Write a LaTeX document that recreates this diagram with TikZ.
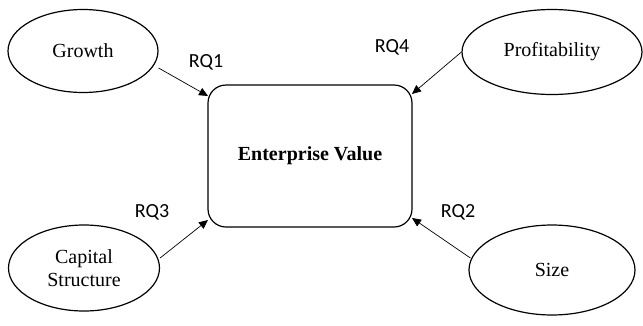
\documentclass[tikz,border=0pt]{standalone}
\usepackage{fontspec}
\setmainfont{Liberation Serif}
\newfontfamily\rqfont{Carlito}
\usetikzlibrary{arrows.meta,shapes.geometric,calc}
\begin{document}
\begin{tikzpicture}[x=1pt,y=-1pt,
  factor/.style={draw,line width=1.2pt,ellipse,inner sep=0pt,font=\fontsize{20}{23}\selectfont,align=center},
  target/.style={draw,line width=1.2pt,rounded corners=18pt,inner sep=0pt,font=\bfseries\fontsize{20}{23}\selectfont},
  link/.style={line width=0.7pt,-{Triangle[length=9pt,width=8pt]}},
  rq/.style={font=\rqfont\fontsize{20}{23}\selectfont}]
\useasboundingbox (0,0) rectangle (643,325);
\node[target,minimum width=204pt,minimum height=142pt] (ev) at (310,156) {Enterprise Value};
\node[factor,minimum width=150pt,minimum height=83pt] (gr) at (83,51) {Growth};
\node[factor,minimum width=180pt,minimum height=85pt] (pr) at (552,52) {Profitability};
\node[factor,minimum width=151pt,minimum height=86pt] (cs) at (84,268) {Capital\\Structure};
\node[factor,minimum width=166pt,minimum height=90pt] (sz) at (552,270) {Size};
\coordinate (t1) at (208,96);
\coordinate (t4) at (412,94);
\coordinate (t3) at (208,220);
\coordinate (t2) at (412,218);
\draw[link] ($(gr.east)+(0,17)$) -- (t1);
\draw[link] (pr.west) -- (t4);
\draw[link] ($(cs.east)+(0,-10)$) -- (t3);
\draw[link] ($(sz.west)+(2,-12)$) -- (t2);
\node[rq] (rq1) at (206,62) {RQ1};
\node[rq] (rq4) at (392,47) {RQ4};
\node[rq] (rq3) at (152,212) {RQ3};
\node[rq] (rq2) at (458,212) {RQ2};
\end{tikzpicture}
\end{document}
